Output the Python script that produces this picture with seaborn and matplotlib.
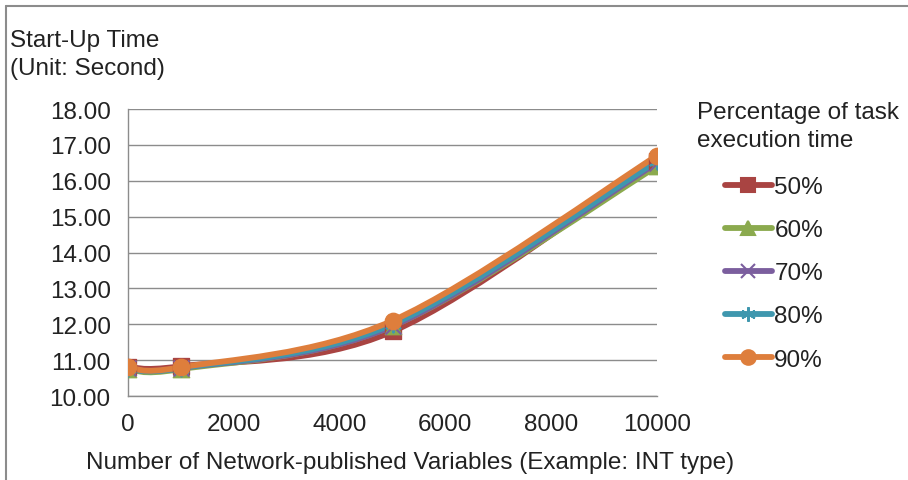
import matplotlib
matplotlib.use("Agg")
import matplotlib.pyplot as plt
from matplotlib.path import Path
from matplotlib.patches import PathPatch
from matplotlib.lines import Line2D
import seaborn as sns
import numpy as np

# data
variables = [0, 1000, 5000, 10000]
series_names = ['50%', '60%', '70%', '80%', '90%']
time_50 = [10.82, 10.83, 11.80, 16.55]
time_60 = [10.75, 10.75, 11.95, 16.40]
time_70 = [10.78, 10.78, 11.95, 16.50]
time_80 = [10.77, 10.78, 12.00, 16.55]
time_90 = [10.80, 10.80, 12.10, 16.70]
all_times = [time_50, time_60, time_70, time_80, time_90]

colors = ['#A94442', '#8BAA4E', '#7B5E9E', '#3F97AE', '#DE7E3C']
markers = ['s', '^', 'x', (6, 2, 0), 'o']

sns.set_theme(style='white')
plt.rcParams['font.family'] = ['Liberation Sans', 'DejaVu Sans']
text_color = '#222222'
grid_color = '#8C8C8C'
fs = 17.5


def smooth_path(xs, ys):
    # Excel-style smoothed line: cubic bezier segments (Catmull-Rom tangents)
    pts = np.column_stack([xs, ys]).astype(float)
    n = len(pts)
    verts = [pts[0]]
    codes = [Path.MOVETO]
    for i in range(n - 1):
        p0 = pts[i - 1] if i > 0 else pts[i]
        p1 = pts[i]
        p2 = pts[i + 1]
        p3 = pts[i + 2] if i + 2 < n else pts[i + 1]
        c1 = p1 + (p2 - p0) / 6.0
        c2 = p2 - (p3 - p1) / 6.0
        verts += [c1, c2, p2]
        codes += [Path.CURVE4] * 3
    return Path(verts, codes)


fig = plt.figure(figsize=(9.08, 4.81), dpi=100)
ax = fig.add_axes([0.141, 0.1746, 0.5826, 0.5967])

for name, ys, c, m in zip(series_names, all_times, colors, markers):
    ax.add_patch(PathPatch(smooth_path(variables, ys), facecolor='none',
                           edgecolor=c, lw=4.2, capstyle='round', zorder=3))
    if m in ('x', (6, 2, 0)):
        sns.scatterplot(x=variables, y=ys, marker=m, color=c, s=130,
                        linewidth=1.5, ax=ax, zorder=4)
    else:
        sns.scatterplot(x=variables, y=ys, marker=m, color=c, s=140,
                        edgecolor=c, ax=ax, zorder=4)

ax.set_xlim(0, 10000)
ax.set_ylim(10, 18)
ax.set_xticks(np.arange(0, 10001, 2000))
ax.set_yticks(np.arange(10, 18.01, 1))
ax.set_yticklabels([f'{v:.2f}' for v in np.arange(10, 18.01, 1)])
ax.yaxis.grid(True, color=grid_color, lw=1.0)
ax.set_axisbelow(True)
for s in ['top', 'right']:
    ax.spines[s].set_visible(False)
for s in ['left', 'bottom']:
    ax.spines[s].set_color(grid_color)
    ax.spines[s].set_linewidth(1.0)
ax.tick_params(axis='both', which='both', direction='out', length=4.5, width=1.0,
               color=grid_color, labelsize=fs, labelcolor=text_color, pad=8)
ax.tick_params(axis='x', pad=8)
ax.set_xlabel('')
ax.set_ylabel('')

fig.text(10 / 908, 1 - 55 / 481, 'Start-Up Time\n(Unit: Second)', ha='left', va='center',
         fontsize=fs, color=text_color, linespacing=1.38)
fig.text(410 / 908, 1 - 463 / 481, 'Number of Network-published Variables (Example: INT type)',
         ha='center', va='center', fontsize=fs, color=text_color)
fig.text(697 / 908, 1 - 127 / 481, 'Percentage of task\nexecution time', ha='left', va='center',
         fontsize=fs, color=text_color, linespacing=1.38)

handles = [Line2D([], [], color=c, lw=4.2, marker=m, markersize=10.5, markeredgewidth=1.5,
                  solid_capstyle='round') for c, m in zip(colors, markers)]
leg = fig.legend(handles, series_names, loc='upper left',
                 bbox_to_anchor=(725 / 908, 1 - 177 / 481),
                 frameon=False, fontsize=fs, handlelength=1.93,
                 handletextpad=0.1, labelspacing=0.87, borderaxespad=0, borderpad=0)
for t in leg.get_texts():
    t.set_color(text_color)

# outer frame (top and left edges)
fig.add_artist(Line2D([6 / 908, 1], [1 - 7 / 481, 1 - 7 / 481], transform=fig.transFigure,
                      color=grid_color, lw=1.5))
fig.add_artist(Line2D([6 / 908, 6 / 908], [0, 1 - 7 / 481], transform=fig.transFigure,
                      color=grid_color, lw=1.5))

fig.savefig('out.png', dpi=100)
